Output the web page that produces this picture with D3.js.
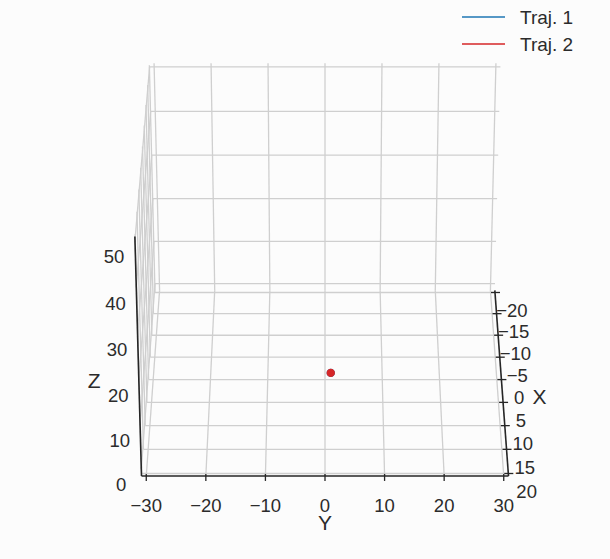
<!DOCTYPE html>
<html>
<head>
<meta charset="utf-8">
<script src="https://cdn.jsdelivr.net/npm/d3@7"></script>
<style>
  body { margin: 0; background: #fcfcfc; }
  svg { display: block; font-family: "Liberation Sans", Arial, sans-serif; }
</style>
</head>
<body>
<svg id="chart" width="610" height="559"></svg>
<script>
/// data ///
const seriesNames = ["Traj. 1", "Traj. 2"];
const seriesColours = ["#1f77b4", "#d62728"];
// trajectories so far (first frame: only the start point)
const traj1 = [[1, 1, 1]];
const traj2 = [[1, 1, 1]];

const xTicks = [-20, -15, -10, -5, 0, 5, 10, 15, 20];
const yTicks = [-30, -20, -10, 0, 10, 20, 30];
const zTicks = [0, 10, 20, 30, 40, 50];
const xLimits = [-20.5, 20.5];
const yLimits = [-30.8, 30.8];
const zLimits = [-1.6, 50.8];

/// constants ///
const width = 610, height = 559;
const elev = 30 * Math.PI / 180;
const camDist = 22;
const focal = 3947;
const cx = 325, cy = 265;
const gridColour = "#cfcfcf";
const axisColour = "#262626";
const textColour = "#2b2b2b";

// normalise data into the box (matplotlib-like 4:4:3 aspect)
const xScale = d3.scaleLinear().domain(xLimits).range([-1, 1]);
const yScale = d3.scaleLinear().domain(yLimits).range([-1, 1]);
const zScale = d3.scaleLinear().domain(zLimits).range([-0.75, 0.75]);

const sinE = Math.sin(elev), cosE = Math.cos(elev);

// perspective projection, camera at azim 0 (looking down the x axis)
function project(x, y, z) {
  const u = xScale(x), v = yScale(y), w = zScale(z);
  const depth = camDist - u * cosE - w * sinE;
  const up = -u * sinE + w * cosE;
  return [cx + focal * v / depth, cy - focal * up / depth];
}

const line = d3.line();
const svg = d3.select("#chart");

const [x0, x1] = xLimits, [y0, y1] = yLimits, [z0, z1] = zLimits;

/// panes grid ///
const grid = svg.append("g")
  .attr("fill", "none")
  .attr("stroke", gridColour)
  .attr("stroke-width", 1.3);

const gridSegs = [];
// back wall (x = x0)
yTicks.forEach(y => gridSegs.push([[x0, y, z0], [x0, y, z1]]));
zTicks.forEach(z => gridSegs.push([[x0, y0, z], [x0, y1, z]]));
// floor (z = z0)
yTicks.forEach(y => gridSegs.push([[x0, y, z0], [x1, y, z0]]));
xTicks.forEach(x => gridSegs.push([[x, y0, z0], [x, y1, z0]]));
// left wall (y = y0)
xTicks.forEach(x => gridSegs.push([[x, y0, z0], [x, y0, z1]]));
zTicks.forEach(z => gridSegs.push([[x0, y0, z], [x1, y0, z]]));

grid.selectAll("path")
  .data(gridSegs)
  .join("path")
  .attr("d", d => line(d.map(p => project(...p))));

/// axes ///
const axes = svg.append("g")
  .attr("fill", "none")
  .attr("stroke", axisColour)
  .attr("stroke-width", 1.6);

const yAxisSeg = [[x1, y0, z0], [x1, y1, z0]];
const xAxisSeg = [[x0, y1, z0], [x1, y1, z0]];
const zAxisSeg = [[x1, y0, z0], [x1, y0, z1]];

axes.selectAll("path.axis")
  .data([yAxisSeg, xAxisSeg, zAxisSeg])
  .join("path")
  .classed("axis", true)
  .attr("d", d => line(d.map(p => project(...p))));

// tick marks
axes.selectAll("path.ytick")
  .data(yTicks)
  .join("path")
  .classed("ytick", true)
  .attr("stroke-width", 1.3)
  .attr("d", y => {
    const [px, py] = project(x1, y, z0);
    return line([[px, py - 2], [px, py + 5]]);
  });

axes.selectAll("path.xtick")
  .data(xTicks)
  .join("path")
  .classed("xtick", true)
  .attr("stroke-width", 1.3)
  .attr("d", x => {
    const [px, py] = project(x, y1, z0);
    return line([[px - 4, py], [px + 5, py]]);
  });

const fmt = v => v < 0 ? "\u2212" + Math.abs(v) : String(v);

const labels = svg.append("g")
  .attr("fill", textColour)
  .attr("font-size", 18.5)
  .attr("text-anchor", "middle")
  .attr("dominant-baseline", "central");

labels.selectAll("text.ylab")
  .data(yTicks)
  .join("text")
  .classed("ylab", true)
  .attr("x", y => project(x1, y, z0)[0])
  .attr("y", y => project(x1, y, z0)[1] + 30)
  .text(fmt);

labels.selectAll("text.xlab")
  .data(xTicks)
  .join("text")
  .classed("xlab", true)
  .attr("x", x => project(x, yScale.invert(1.1), z0)[0])
  .attr("y", x => project(x, yScale.invert(1.1), z0)[1] + 18)
  .text(fmt);

labels.selectAll("text.zlab")
  .data(zTicks)
  .join("text")
  .classed("zlab", true)
  .attr("x", z => project(x1, yScale.invert(-1.11), z)[0])
  .attr("y", z => project(x1, yScale.invert(-1.11), z)[1] + 16)
  .text(fmt);

// axis titles
const mid = seg => project(...seg[0].map((v, i) => (v + seg[1][i]) / 2));
const axisTitles = [
  { text: "Y", pos: mid(yAxisSeg), dx: 0, dy: 47 },
  { text: "X", pos: mid(xAxisSeg), dx: 38, dy: 17 },
  { text: "Z", pos: mid(zAxisSeg), dx: -44, dy: 22 }
];
labels.selectAll("text.title")
  .data(axisTitles)
  .join("text")
  .classed("title", true)
  .attr("font-size", 21)
  .attr("x", d => d.pos[0] + d.dx)
  .attr("y", d => d.pos[1] + d.dy)
  .text(d => d.text);

/// trajectories ///
const trajG = svg.append("g");
[traj1, traj2].forEach((traj, i) => {
  const pts = traj.map(p => project(...p));
  trajG.append("path")
    .attr("d", line(pts))
    .attr("fill", "none")
    .attr("stroke", seriesColours[i])
    .attr("stroke-width", 1.5);
  const last = pts[pts.length - 1];
  trajG.append("circle")
    .attr("cx", last[0])
    .attr("cy", last[1])
    .attr("r", 4.2)
    .attr("fill", seriesColours[i]);
});

/// legend ///
const legend = svg.append("g")
  .attr("transform", "translate(462, 17)");
const legendItem = legend.selectAll("g")
  .data(seriesNames)
  .join("g")
  .attr("transform", (d, i) => `translate(0, ${i * 27})`);
legendItem.append("line")
  .attr("x1", 0).attr("x2", 43)
  .attr("stroke", (d, i) => seriesColours[i])
  .attr("stroke-width", 1.5);
legendItem.append("text")
  .attr("x", 58)
  .attr("dominant-baseline", "central")
  .attr("font-size", 19)
  .attr("fill", textColour)
  .text(d => d);
</script>
</body>
</html>
